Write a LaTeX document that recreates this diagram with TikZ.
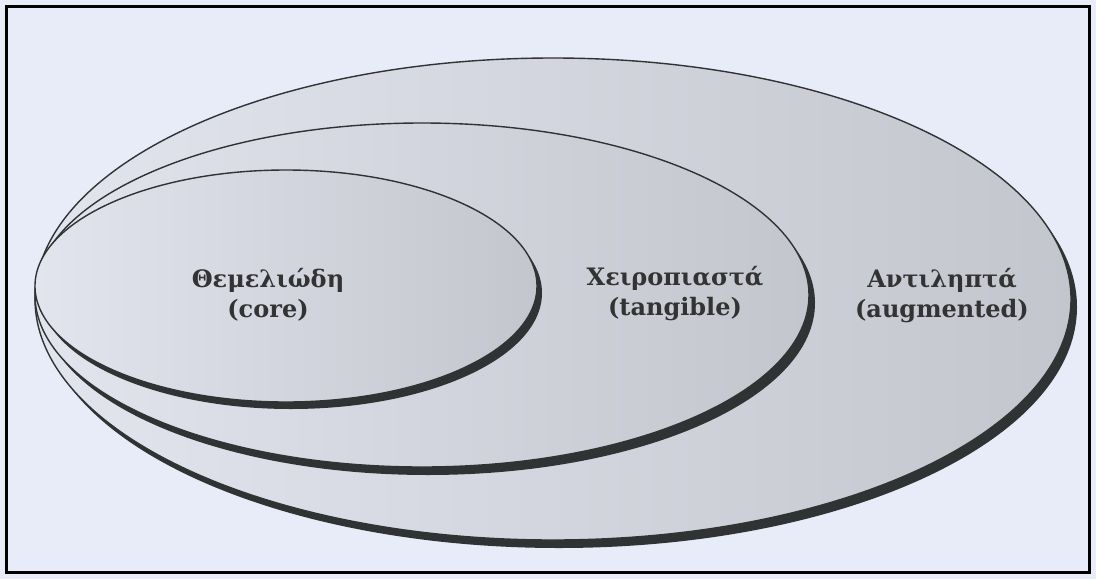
\documentclass[tikz,border=0pt]{standalone}
\usepackage{fontspec}
\setmainfont{DejaVu Serif}
\definecolor{paper}{HTML}{E8ECF8}
\definecolor{rim}{HTML}{2F3333}
\definecolor{lightfill}{HTML}{E2E5EE}
\definecolor{darkfill}{HTML}{C4C6CE}
\definecolor{ink}{HTML}{333333}
\begin{document}
\begin{tikzpicture}[x=1pt,y=-1pt,
  rimline/.style={draw=rim, line width=1.4pt},
  shadowfill/.style={fill=rim},
  layerfill/.style={left color=lightfill, right color=darkfill},
  label/.style={font=\fontsize{24pt}{30pt}\selectfont\bfseries, text=ink, align=center, inner sep=0pt}]
  % page and frame
  \fill[paper] (0,0) rectangle (1096,579);
  \useasboundingbox (0,0) rectangle (1096,579);
  \draw[black, line width=3pt] (6.5,6.5) rectangle (1089.5,572.5);

  % layer centres
  \coordinate (cOut) at (553,299);
  \coordinate (cMid) at (422,295);
  \coordinate (cIn)  at (286,286);

  % augmented layer
  \fill[shadowfill] ([shift={(6,8)}]cOut) ellipse [x radius=518pt, y radius=241pt];
  \shade[layerfill] (cOut) ellipse [x radius=518pt, y radius=241pt];
  \draw[rimline] (cOut) ellipse [x radius=518pt, y radius=241pt];

  % tangible layer
  \fill[shadowfill] ([shift={(6,8)}]cMid) ellipse [x radius=387pt, y radius=172pt];
  \shade[layerfill] (cMid) ellipse [x radius=387pt, y radius=172pt];
  \draw[rimline] (cMid) ellipse [x radius=387pt, y radius=172pt];

  % core layer
  \fill[shadowfill] ([shift={(5,7)}]cIn) ellipse [x radius=251pt, y radius=116pt];
  \shade[layerfill] (cIn) ellipse [x radius=251pt, y radius=116pt];
  \draw[rimline] (cIn) ellipse [x radius=251pt, y radius=116pt];

  % labels
  \node[label] (core) at (268,295) {Θεμελιώδη\\(core)};
  \node[label] (tangible) at (675,294) {Χειροπιαστά\\(tangible)};
  \node[label] (augmented) at (942,296) {Αντιληπτά\\(augmented)};
\end{tikzpicture}
\end{document}
